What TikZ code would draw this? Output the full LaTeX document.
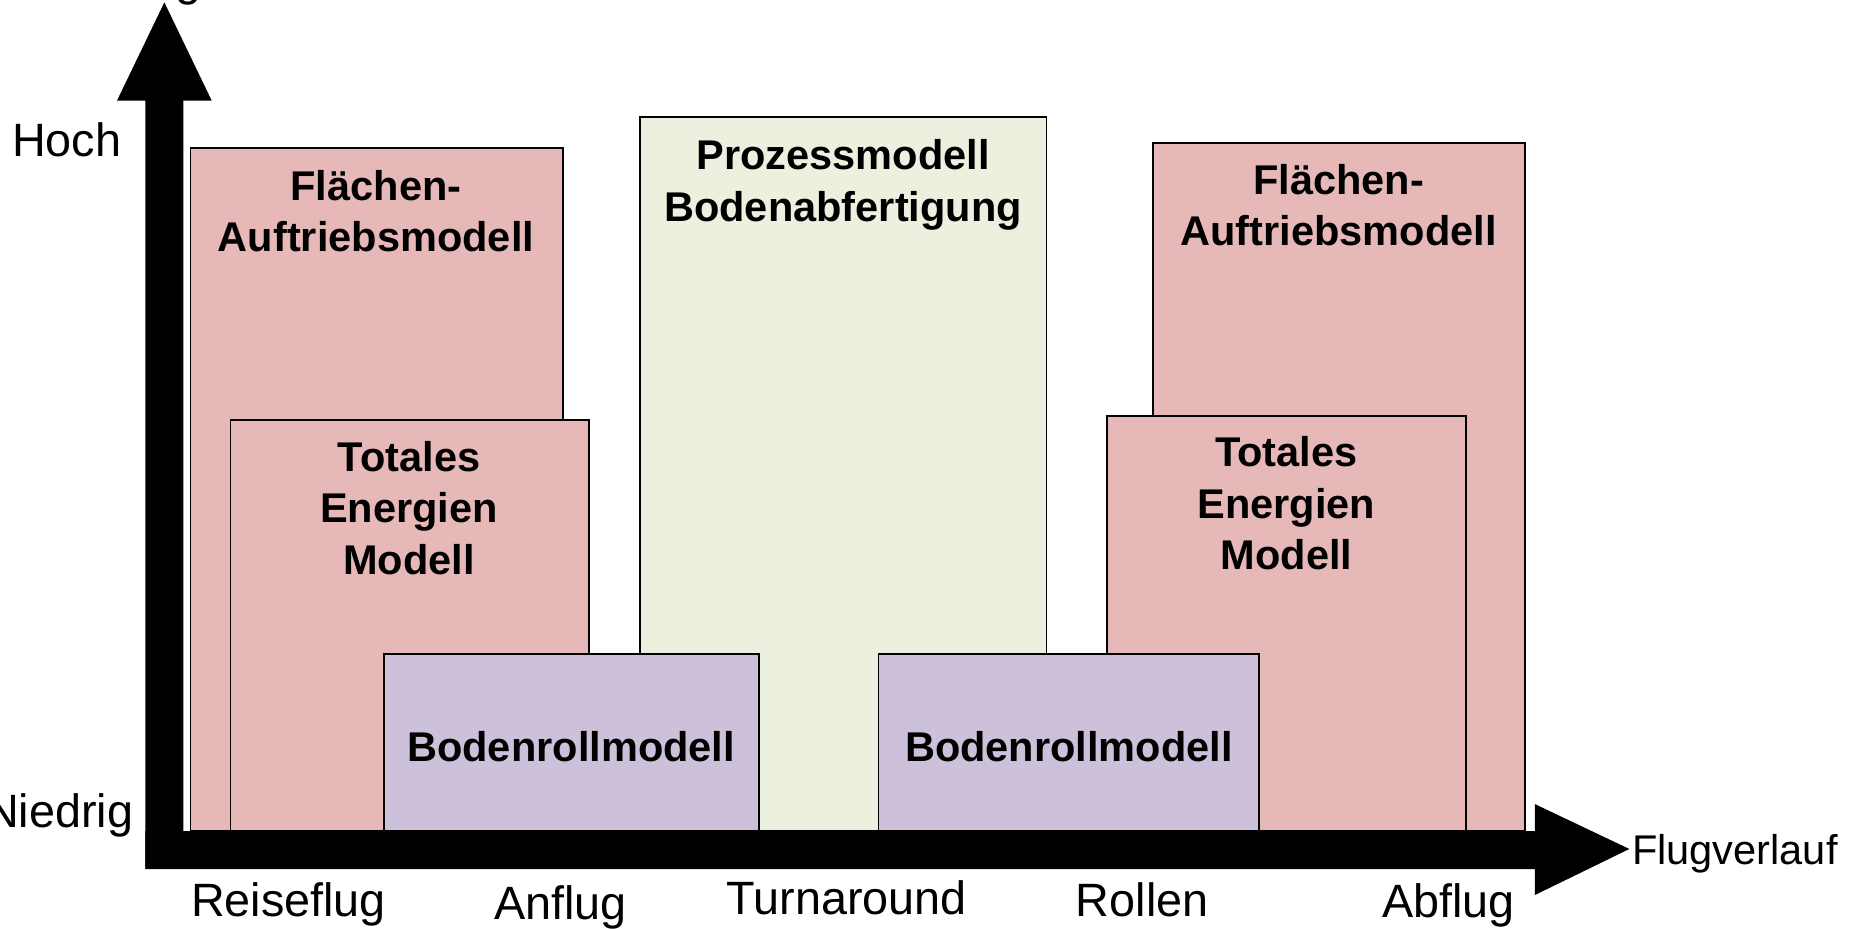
\documentclass[tikz,border=0pt]{standalone}
\usepackage{fontspec}
\setmainfont{Liberation Sans}
\definecolor{modred}{HTML}{E6B8B7}
\definecolor{modgreen}{HTML}{EBF1DE}
\definecolor{modlila}{HTML}{CCC0DA}

\begin{document}
\begin{tikzpicture}[x=0.02cm,y=-0.02cm,
	modbox/.style={draw=black,line width=0.8pt},
	boxtext/.style={font={\bfseries\fontsize{20}{24.9}\selectfont},align=center,anchor=base,inner sep=0pt},
	axtext/.style={font={\fontsize{22.5}{27}\selectfont},inner sep=0pt}]
			%%%%% START %%%%%
			\useasboundingbox (0,0) rectangle (1568,785);
			\def\bot{703}
			\def\barlo{735}
			\def\xl{123}
			\def\xr{155}
			\def\xend{1298}

			% Modelle hinten
			\draw[modbox,fill=modred] (161,125) rectangle (476,\bot);
			\draw[modbox,fill=modred] (975,121) rectangle (1290,\bot);
			\draw[modbox,fill=modred] (195,355) rectangle (498,\bot);
			\draw[modbox,fill=modred] (936,352) rectangle (1240,\bot);
			\draw[modbox,fill=modgreen] (541,99) rectangle (885,\bot);
			\draw[modbox,fill=modlila] (325,553) rectangle (642,\bot);
			\draw[modbox,fill=modlila] (743,553) rectangle (1065,\bot);

			% base = letzte Zeile
			\node[boxtext] (flaecheA) at (318,213) {Flächen-\\Auftriebsmodell};
			\node[boxtext] (flaecheB) at (1132,208) {Flächen-\\Auftriebsmodell};
			\node[boxtext] (energieA) at (346,486) {Totales\\Energien\\Modell};
			\node[boxtext] (energieB) at (1088,482) {Totales\\Energien\\Modell};
			\node[boxtext] (prozess) at (713,187) {Prozessmodell\\Bodenabfertigung};
			\node[boxtext] (rollA) at (483,644) {Bodenrollmodell};
			\node[boxtext] (rollB) at (904,644) {Bodenrollmodell};

			% Achsen
			\fill[black] (\xl,\barlo) -- (\xl,85) -- (99,85) -- (139,2) -- (179,85) -- (\xr,85) -- (\xr,\bot) -- cycle;
			\fill[black] (\xl,\bot) -- (\xend,\bot) -- (\xend,680) -- (1378,718) -- (\xend,757) -- (\xend,\barlo) -- (\xl,\barlo) -- cycle;

			\node[axtext,anchor=base east] (ytitel) at (171,-4) {g};
			\node[axtext,anchor=base west] (hoch) at (10,132) {Hoch};
			\node[axtext,anchor=base east] (niedrig) at (113,700) {Niedrig};
			\node[axtext,anchor=base west,font={\fontsize{20}{24}\selectfont}] (verlauf) at (1380,731) {Flugverlauf};

			\node[axtext,anchor=base] (reise) at (244,775) {Reiseflug};
			\node[axtext,anchor=base] (anflug) at (474,778) {Anflug};
			\node[axtext,anchor=base] (turn) at (716,773) {Turnaround};
			\node[axtext,anchor=base] (rollen) at (966,775) {Rollen};
			\node[axtext,anchor=base] (abflug) at (1225,776) {Abflug};
			%%%%% END %%%%%
\end{tikzpicture}
\end{document}
